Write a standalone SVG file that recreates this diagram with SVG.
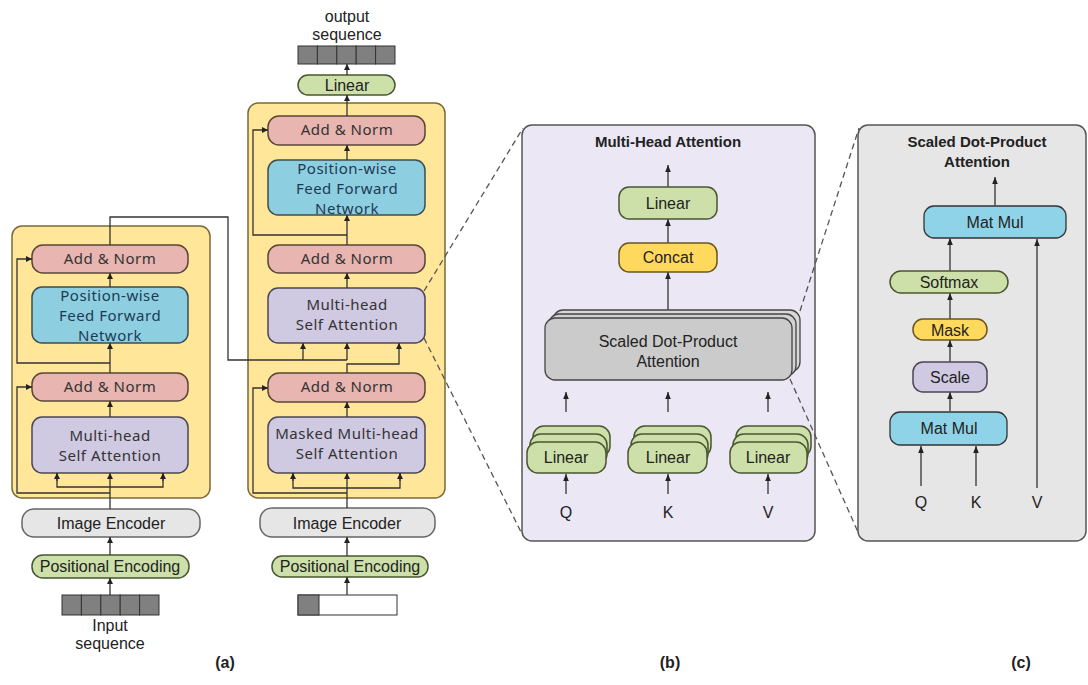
<svg xmlns="http://www.w3.org/2000/svg" width="1088" height="685" viewBox="0 0 1088 685">
<defs>
<marker id="ah" viewBox="0 0 10 10" refX="10" refY="5" markerWidth="6" markerHeight="6" markerUnits="userSpaceOnUse" orient="auto"><path d="M0,0 L10,5 L0,10 z" fill="#222"/></marker>
<marker id="ah2" viewBox="0 0 10 10" refX="10" refY="5" markerWidth="7" markerHeight="7" markerUnits="userSpaceOnUse" orient="auto"><path d="M0,1 L10,5 L0,9 z" fill="#222"/></marker>
</defs>
<style>
.panel{fill:#ffe699;stroke:#7a6a3a;stroke-width:1.5}
.norm{fill:#e8b5b0;stroke:#5a4638;stroke-width:1.5}
.ffn{fill:#8dcfe0;stroke:#3d4d52;stroke-width:1.5}
.mh{fill:#d0c9e2;stroke:#4a4658;stroke-width:1.5}
.img{fill:#e6e6e6;stroke:#666;stroke-width:1.5}
.grn{fill:#cde0a9;stroke:#4a5632;stroke-width:1.5}
.yel{fill:#ffd95e;stroke:#6a5520;stroke-width:1.5}
.cell{fill:#808080;stroke:#333;stroke-width:1}
.wcell{fill:#fff;stroke:#333;stroke-width:1}
.sdp{fill:#cbcbcb;stroke:#444;stroke-width:1.3}
.blu{fill:#8fd3e8;stroke:#333;stroke-width:1.3}
.ko{font-family:"Noto Sans","Open Sans",sans-serif;font-size:15px;letter-spacing:0.5px;fill:#333;text-anchor:middle}
.kob{font-family:"Noto Sans","Open Sans",sans-serif;font-size:15px;letter-spacing:0.5px;fill:#1d3a55;text-anchor:middle}
.ar{font-family:"Liberation Sans",Arial,sans-serif;font-size:16px;fill:#222;text-anchor:middle}
.tt{font-family:"Liberation Sans",Arial,sans-serif;font-size:15px;font-weight:bold;fill:#222;text-anchor:middle}
.cap{font-family:"Liberation Sans",Arial,sans-serif;font-size:16px;font-weight:bold;fill:#222;text-anchor:middle}
.ln{fill:none;stroke:#333;stroke-width:1.3}
.lg{fill:none;stroke:#555;stroke-width:1.6}
.dash{fill:none;stroke:#555;stroke-width:1.3;stroke-dasharray:6 4}
</style>

<!-- (a) encoder -->
<g id="encoder-panel"><rect class="panel" x="12" y="226" width="198" height="272" rx="10"/></g>
<g id="enc-addnorm2"><rect class="norm" x="32" y="245" width="156" height="28" rx="11"/><text class="ko" x="110" y="264">Add &amp; Norm</text></g>
<g id="enc-ffn"><rect class="ffn" x="32" y="287" width="156" height="56" rx="10"/><text class="kob" x="110" y="301">Position-wise</text><text class="kob" x="110" y="321">Feed Forward</text><text class="kob" x="110" y="341">Network</text></g>
<g id="enc-addnorm1"><rect class="norm" x="32" y="373" width="156" height="28" rx="11"/><text class="ko" x="110" y="392">Add &amp; Norm</text></g>
<g id="enc-mhsa"><rect class="mh" x="32" y="417" width="156" height="56" rx="10"/><text class="ko" x="110" y="441">Multi-head</text><text class="ko" x="110" y="461">Self Attention</text></g>
<g id="enc-image-encoder"><rect class="img" x="22" y="509" width="178" height="28" rx="12"/><text class="ar" x="111" y="529">Image Encoder</text></g>
<g id="enc-posenc"><rect class="grn" x="32" y="555" width="157" height="23" rx="11"/><text class="ar" x="110" y="572">Positional Encoding</text></g>
<g id="input-sequence">
<rect class="cell" x="62" y="595" width="19.4" height="20"/><rect class="cell" x="81.4" y="595" width="19.4" height="20"/><rect class="cell" x="100.8" y="595" width="19.4" height="20"/><rect class="cell" x="120.2" y="595" width="19.4" height="20"/><rect class="cell" x="139.6" y="595" width="19.4" height="20"/>
<text class="ar" x="110" y="631">Input</text><text class="ar" x="110" y="649">sequence</text></g>

<!-- decoder -->
<g id="decoder-panel"><rect class="panel" x="248" y="103" width="197" height="395" rx="10"/></g>
<g id="output-sequence">
<text class="ar" x="347" y="22">output</text><text class="ar" x="347" y="40">sequence</text>
<rect class="cell" x="298" y="46" width="19.4" height="18"/><rect class="cell" x="317.4" y="46" width="19.4" height="18"/><rect class="cell" x="336.8" y="46" width="19.4" height="18"/><rect class="cell" x="356.2" y="46" width="19.4" height="18"/><rect class="cell" x="375.6" y="46" width="19.4" height="18"/></g>
<g id="dec-linear"><rect class="grn" x="298" y="75" width="97" height="20" rx="10"/><text class="ar" x="347" y="91">Linear</text></g>
<g id="dec-addnorm3"><rect class="norm" x="268" y="116" width="157" height="29" rx="11"/><text class="ko" x="347" y="135">Add &amp; Norm</text></g>
<g id="dec-ffn"><rect class="ffn" x="268" y="160" width="157" height="55" rx="10"/><text class="kob" x="347" y="174">Position-wise</text><text class="kob" x="347" y="194">Feed Forward</text><text class="kob" x="347" y="214">Network</text></g>
<g id="dec-addnorm2"><rect class="norm" x="268" y="245" width="157" height="28" rx="11"/><text class="ko" x="347" y="264">Add &amp; Norm</text></g>
<g id="dec-mhsa"><rect class="mh" x="268" y="288" width="157" height="55" rx="10"/><text class="ko" x="347" y="310">Multi-head</text><text class="ko" x="347" y="330">Self Attention</text></g>
<g id="dec-addnorm1"><rect class="norm" x="268" y="373" width="157" height="29" rx="11"/><text class="ko" x="347" y="392">Add &amp; Norm</text></g>
<g id="dec-masked-mhsa"><rect class="mh" x="268" y="417" width="157" height="56" rx="10"/><text class="ko" x="347" y="439">Masked Multi-head</text><text class="ko" x="347" y="459">Self Attention</text></g>
<g id="dec-image-encoder"><rect class="img" x="260" y="508" width="175" height="29" rx="12"/><text class="ar" x="347" y="529">Image Encoder</text></g>
<g id="dec-posenc"><rect class="grn" x="272" y="556" width="156" height="21" rx="10"/><text class="ar" x="350" y="572">Positional Encoding</text></g>
<g id="dec-input"><rect class="wcell" x="298" y="595" width="99" height="20"/><rect class="cell" x="298" y="595" width="21" height="20"/></g>

<!-- (b) -->
<g id="panel-b"><rect x="522" y="125" width="293" height="416" rx="10" fill="#ebe7f4" stroke="#555" stroke-width="1.5"/><text class="tt" x="668" y="147">Multi-Head Attention</text></g>
<g id="b-linear"><rect class="grn" x="619" y="187" width="98" height="32" rx="10"/><text class="ar" x="668" y="209">Linear</text></g>
<g id="b-concat"><rect class="yel" x="619" y="243" width="98" height="29" rx="10"/><text class="ar" x="668" y="263">Concat</text></g>
<g id="b-sdpa">
<rect x="553" y="310" width="247" height="62" rx="10" fill="#d8d8d8" stroke="#444" stroke-width="1.3"/>
<rect x="549" y="314" width="247" height="62" rx="10" fill="#d2d2d2" stroke="#444" stroke-width="1.3"/>
<rect class="sdp" x="545" y="318" width="247" height="62" rx="10"/>
<text class="ar" x="668" y="347">Scaled Dot-Product</text><text class="ar" x="668" y="367">Attention</text></g>
<g id="b-linear-q">
<rect class="grn" x="533" y="426" width="77" height="31" rx="11"/><rect class="grn" x="530" y="434" width="77" height="31" rx="11"/><rect class="grn" x="527" y="442" width="79" height="31" rx="11"/>
<text class="ar" x="566" y="463">Linear</text></g>
<g id="b-linear-k">
<rect class="grn" x="634" y="426" width="77" height="31" rx="11"/><rect class="grn" x="631" y="434" width="77" height="31" rx="11"/><rect class="grn" x="628" y="442" width="79" height="31" rx="11"/>
<text class="ar" x="668" y="463">Linear</text></g>
<g id="b-linear-v">
<rect class="grn" x="736" y="426" width="75" height="31" rx="11"/><rect class="grn" x="733" y="434" width="75" height="31" rx="11"/><rect class="grn" x="730" y="442" width="77" height="31" rx="11"/>
<text class="ar" x="768" y="463">Linear</text></g>
<g id="b-inputs"><text class="ar" x="566" y="518">Q</text><text class="ar" x="668" y="518">K</text><text class="ar" x="768" y="518">V</text></g>

<!-- (c) -->
<g id="panel-c"><rect x="858" y="125" width="228" height="416" rx="10" fill="#e6e6e6" stroke="#555" stroke-width="1.5"/><text class="tt" x="977" y="147">Scaled Dot-Product</text><text class="tt" x="977" y="167">Attention</text></g>
<g id="c-matmul2"><rect class="blu" x="924" y="206" width="142" height="32" rx="10"/><text class="ar" x="995" y="228">Mat Mul</text></g>
<g id="c-softmax"><rect class="grn" x="890" y="271" width="118" height="22" rx="11"/><text class="ar" x="949" y="288">Softmax</text></g>
<g id="c-mask"><rect class="yel" x="913" y="319" width="74" height="21" rx="10"/><text class="ar" x="950" y="336">Mask</text></g>
<g id="c-scale"><rect class="mh" x="913" y="362" width="74" height="30" rx="10"/><text class="ar" x="950" y="383">Scale</text></g>
<g id="c-matmul1"><rect class="blu" x="890" y="412" width="117" height="33" rx="10"/><text class="ar" x="949" y="434">Mat Mul</text></g>
<g id="c-inputs"><text class="ar" x="921" y="508">Q</text><text class="ar" x="976" y="508">K</text><text class="ar" x="1037" y="508">V</text></g>

<g id="captions"><text class="cap" x="225" y="668">(a)</text><text class="cap" x="670" y="668">(b)</text><text class="cap" x="1021" y="668">(c)</text></g>

<g id="connectors">
<!-- encoder -->
<path class="ln" d="M110,595 V578" marker-end="url(#ah)"/>
<path class="ln" d="M110,555 V537" marker-end="url(#ah)"/>
<path class="ln" d="M110,509 V473" marker-end="url(#ah)"/>
<path class="ln" d="M57,473 V487 H163 V473" />
<path class="ln" d="M57,481 V473" marker-end="url(#ah)"/>
<path class="ln" d="M163,481 V473" marker-end="url(#ah)"/>
<path class="ln" d="M110,493 H17 V387 H32" marker-end="url(#ah)"/>
<path class="ln" d="M110,417 V401" marker-end="url(#ah)"/>
<path class="ln" d="M110,373 V343" marker-end="url(#ah)"/>
<path class="ln" d="M110,363 H17 V259 H32" marker-end="url(#ah)"/>
<path class="ln" d="M110,287 V273" marker-end="url(#ah)"/>
<!-- encoder to decoder -->
<path class="ln" d="M110,245 V217 H228 V360 H347"/>
<path class="ln" d="M303,360 V343" marker-end="url(#ah)"/>
<path class="ln" d="M347,360 V343" marker-end="url(#ah)"/>
<!-- decoder -->
<path class="ln" d="M347,595 V577" marker-end="url(#ah)"/>
<path class="ln" d="M347,556 V537" marker-end="url(#ah)"/>
<path class="ln" d="M347,508 V473" marker-end="url(#ah)"/>
<path class="ln" d="M293,473 V488 H400 V473"/>
<path class="ln" d="M293,481 V473" marker-end="url(#ah)"/>
<path class="ln" d="M400,481 V473" marker-end="url(#ah)"/>
<path class="ln" d="M347,493 H253 V388 H268" marker-end="url(#ah)"/>
<path class="ln" d="M347,417 V402" marker-end="url(#ah)"/>
<path class="ln" d="M347,373 V364 H399 V343" marker-end="url(#ah)"/>
<path class="ln" d="M347,288 V273" marker-end="url(#ah)"/>
<path class="ln" d="M347,245 V215" marker-end="url(#ah)"/>
<path class="ln" d="M347,235 H253 V130 H268" marker-end="url(#ah)"/>
<path class="ln" d="M347,160 V145" marker-end="url(#ah)"/>
<path class="ln" d="M347,116 V95" marker-end="url(#ah)"/>
<path class="ln" d="M347,75 V64" marker-end="url(#ah)"/>
<!-- panel b -->
<path class="lg" d="M668,187 V165" marker-end="url(#ah2)"/>
<path class="lg" d="M668,243 V219" marker-end="url(#ah2)"/>
<path class="lg" d="M668,310 V272" marker-end="url(#ah2)"/>
<path class="lg" d="M566,412 V392" marker-end="url(#ah2)"/>
<path class="lg" d="M668,412 V392" marker-end="url(#ah2)"/>
<path class="lg" d="M768,412 V392" marker-end="url(#ah2)"/>
<path class="lg" d="M566,494 V474" marker-end="url(#ah2)"/>
<path class="lg" d="M668,494 V474" marker-end="url(#ah2)"/>
<path class="lg" d="M768,494 V474" marker-end="url(#ah2)"/>
<!-- panel c -->
<path class="lg" d="M995,206 V177" marker-end="url(#ah2)"/>
<path class="lg" d="M950,271 V238" marker-end="url(#ah2)"/>
<path class="lg" d="M950,319 V293" marker-end="url(#ah2)"/>
<path class="lg" d="M950,362 V340" marker-end="url(#ah2)"/>
<path class="lg" d="M950,412 V392" marker-end="url(#ah2)"/>
<path class="lg" d="M921,486 V446" marker-end="url(#ah2)"/>
<path class="lg" d="M976,486 V446" marker-end="url(#ah2)"/>
<path class="lg" d="M1037,488 V239" marker-end="url(#ah2)"/>
<!-- zoom dashed lines -->
<path class="dash" d="M424,291 L523,128"/>
<path class="dash" d="M424,338 L523,536"/>
<path class="dash" d="M800,311 L859,128"/>
<path class="dash" d="M790,379 L858,532"/>
</g>
</svg>
